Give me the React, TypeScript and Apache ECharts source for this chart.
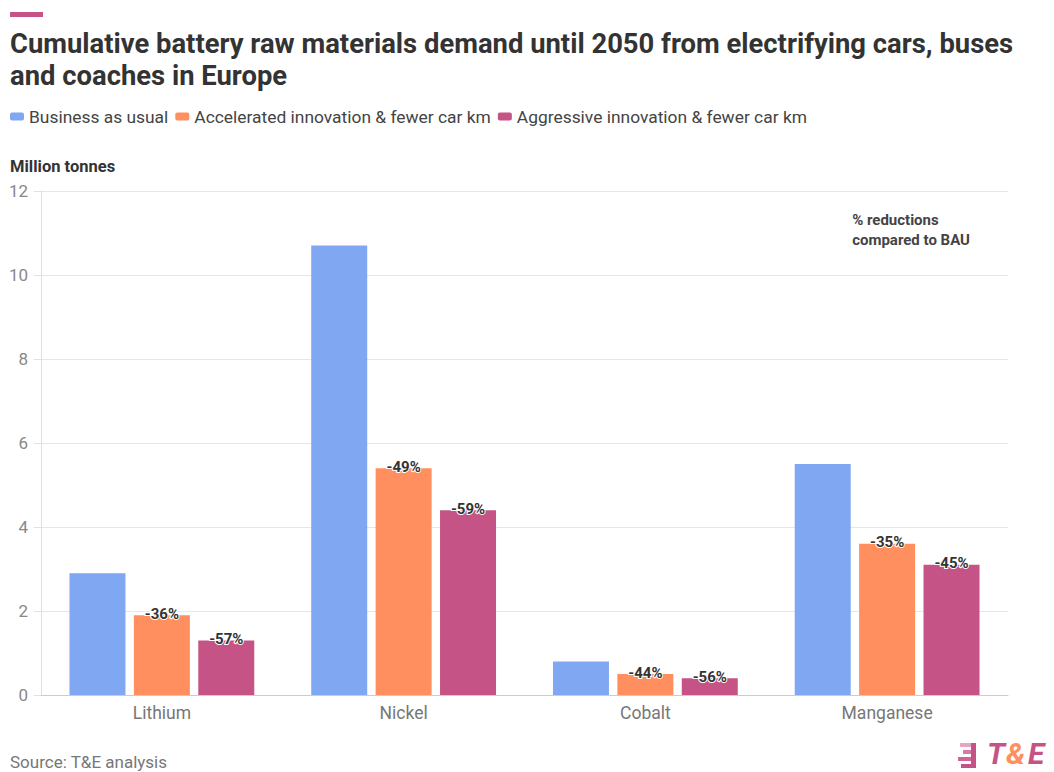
import React, { useEffect, useRef } from "react";
import * as echarts from "echarts";

const categories = ["Lithium", "Nickel", "Cobalt", "Manganese"];
const seriesNames = [
  "Business as usual",
  "Accelerated innovation & fewer car km",
  "Aggressive innovation & fewer car km",
];
const bau = [2.9, 10.7, 0.8, 5.5];
const accelerated = [1.9, 5.4, 0.5, 3.6];
const aggressive = [1.3, 4.4, 0.4, 3.1];
const acceleratedLabels = ["-36%", "-49%", "-44%", "-35%"];
const aggressiveLabels = ["-57%", "-59%", "-56%", "-45%"];
const colors = ["#80a8f2", "#ff8f5e", "#c55385"];

const FONT = "Roboto, 'Noto Sans', sans-serif";

export default function App() {
  const ref = useRef<HTMLDivElement>(null);
  useEffect(() => {
    document.body.style.margin = "0";
    if (!ref.current) return;
    const chart = echarts.init(ref.current, undefined, { renderer: "svg" });
    const labelStyle = (labels: string[]) => ({
      show: true,
      position: "top",
      distance: -6,
      formatter: (p: any) => labels[p.dataIndex],
      fontFamily: FONT,
      fontSize: 15,
      fontWeight: "bold",
      color: "#333",
      textBorderColor: "#fff",
      textBorderWidth: 2,
    });
    const logoText = (t: string, x: number, fill: string) => ({
      type: "text",
      x,
      y: 11,
      style: {
        text: t,
        fill,
        fontSize: 30,
        fontWeight: "bold",
        fontStyle: "italic",
        fontFamily: FONT,
        verticalAlign: "middle",
        align: "left",
      },
    });
    chart.setOption({
      animation: false,
      textStyle: { fontFamily: FONT },
      color: colors,
      title: {
        text: "Cumulative battery raw materials demand until 2050 from electrifying cars, buses\nand coaches in Europe",
        left: 10,
        top: 28,
        padding: 0,
        textStyle: {
          fontFamily: FONT,
          fontSize: 27.4,
          fontWeight: "bold",
          color: "#333",
          lineHeight: 32,
        },
      },
      legend: {
        left: 5,
        top: 103,
        icon: "roundRect",
        itemWidth: 14,
        itemHeight: 8,
        itemGap: 7,
        textStyle: { fontFamily: FONT, fontSize: 17.4, color: "#444" },
        data: seriesNames,
      },
      grid: { left: 41, right: 46, top: 191, bottom: 77 },
      xAxis: {
        type: "category",
        data: categories,
        axisLine: { lineStyle: { color: "#ccc" } },
        axisTick: { alignWithLabel: true, length: 5, lineStyle: { color: "#ccc" } },
        axisLabel: { fontFamily: FONT, fontSize: 17.5, color: "#777", margin: 9 },
      },
      yAxis: {
        type: "value",
        min: 0,
        max: 12,
        interval: 2,
        axisLine: { show: true, lineStyle: { color: "#e0e0e0" } },
        axisTick: { show: true, length: 7, lineStyle: { color: "#e0e0e0" } },
        axisLabel: { fontFamily: FONT, fontSize: 17, color: "#888", margin: 13 },
        splitLine: { lineStyle: { color: "#e6e6e6" } },
      },
      series: [
        {
          name: seriesNames[0],
          type: "bar",
          data: bau,
          barWidth: 56,
          barGap: "15%",
        },
        {
          name: seriesNames[1],
          type: "bar",
          data: accelerated,
          barWidth: 56,
          barGap: "15%",
          label: labelStyle(acceleratedLabels),
        },
        {
          name: seriesNames[2],
          type: "bar",
          data: aggressive,
          barWidth: 56,
          barGap: "15%",
          label: labelStyle(aggressiveLabels),
        },
      ],
      graphic: [
        { type: "rect", left: 10, top: 12, shape: { width: 33, height: 5 }, style: { fill: "#c55385" } },
        {
          type: "text",
          left: 10,
          top: 158,
          style: { text: "Million tonnes", fontFamily: FONT, fontSize: 16.5, fontWeight: "bold", fill: "#333" },
        },
        {
          type: "text",
          right: 84,
          top: 210,
          style: {
            text: "% reductions\ncompared to BAU",
            fontFamily: FONT,
            fontSize: 15,
            fontWeight: "bold",
            fill: "#444",
            align: "right",
            lineHeight: 20,
          },
        },
        {
          type: "text",
          left: 10,
          top: 753,
          style: { text: "Source: T&E analysis", fontFamily: FONT, fontSize: 17, fill: "#777" },
        },
        {
          type: "group",
          x: 958,
          y: 742,
          children: [
            { type: "rect", shape: { x: 2, y: 1, width: 16, height: 4 }, style: { fill: "#e8a4c3" } },
            { type: "rect", shape: { x: 5, y: 8, width: 13, height: 4 }, style: { fill: "#d97aa6" } },
            { type: "rect", shape: { x: 0, y: 15, width: 17, height: 4 }, style: { fill: "#cf6497" } },
            { type: "rect", shape: { x: 3, y: 22, width: 13, height: 4 }, style: { fill: "#c55385" } },
            { type: "rect", shape: { x: 13, y: 1, width: 5, height: 25 }, style: { fill: "#c55385" } },
            logoText("T", 29, "#c55385"),
            logoText("&", 48, "#ff8f5e"),
            logoText("E", 70, "#c55385"),
          ],
        },
      ],
    });
    return () => chart.dispose();
  }, []);
  return <div ref={ref} style={{ width: 1054, height: 772 }} />;
}
